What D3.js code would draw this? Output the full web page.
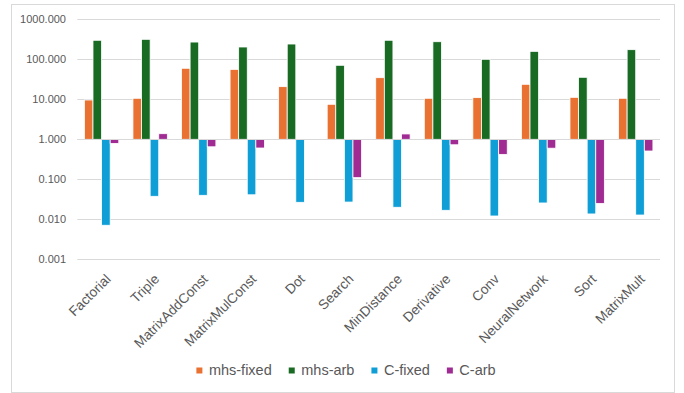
<!DOCTYPE html>
<html>
<head>
<meta charset="utf-8">
<script src="https://cdn.jsdelivr.net/npm/d3@7"></script>
<style>
  html, body { margin: 0; padding: 0; background: #fff; }
  svg { display: block; }
  text { font-family: "Liberation Sans", Arial, sans-serif; fill: #595959; }
</style>
</head>
<body>
<svg id="chart" width="684" height="393"></svg>
<script>
// Benchmarks on the horizontal axis
const categories = ["Factorial", "Triple", "MatrixAddConst", "MatrixMulConst", "Dot", "Search",
  "MinDistance", "Derivative", "Conv", "NeuralNetwork", "Sort", "MatrixMult"];

const seriesNames = ["mhs-fixed", "mhs-arb", "C-fixed", "C-arb"];
const seriesColors = ["#E97132", "#196B24", "#0F9ED5", "#A02B93"];

// Per-benchmark values for each series (null = no value)
const mhsFixed = [9.6, 10.6, 59.6, 56, 20.7, 7.5, 34.7, 10.6, 11.0, 23.7, 11.2, 10.6];
const mhsArb   = [299, 316, 270, 203, 241, 70.8, 299, 275, 100, 158, 35.5, 174];
const cFixed   = [0.0071, 0.0376, 0.0398, 0.041, 0.0266, 0.027, 0.020, 0.0168, 0.0121, 0.0256, 0.0136, 0.0128];
const cArb     = [0.79, 1.38, 0.65, 0.606, null, 0.11, 1.36, 0.73, 0.42, 0.60, 0.025, 0.51];

const yTicks = [0.001, 0.01, 0.1, 1, 10, 100, 1000];
const baseline = 1;

const seriesValues = [mhsFixed, mhsArb, cFixed, cArb];

const svg = d3.select("#chart");

// outer chart frame
svg.append("rect")
  .attr("x", 11.5).attr("y", 4.5)
  .attr("width", 663).attr("height", 388)
  .attr("fill", "none").attr("stroke", "#D9D9D9").attr("stroke-width", 1);

const plot = { left: 77.3, right: 660, top: 19.3, bottom: 259.3 };

const y = d3.scaleLog().domain([0.001, 1000]).range([plot.bottom, plot.top]);
const x0 = d3.scaleBand().domain(categories).range([plot.left, plot.right]).padding(0);
const x1 = d3.scaleBand().domain(seriesNames).range([0, x0.bandwidth()])
  .paddingInner(0).paddingOuter(0.825);

// gridlines
svg.append("g").selectAll("line").data(yTicks).join("line")
  .attr("x1", plot.left).attr("x2", plot.right)
  .attr("y1", d => Math.round(y(d)) + 0.5).attr("y2", d => Math.round(y(d)) + 0.5)
  .attr("stroke", "#D9D9D9").attr("stroke-width", 1);

// y axis labels
const yAxis = d3.axisLeft(y).tickValues(yTicks).tickFormat(d3.format(".3f")).tickSize(0).tickPadding(0);
svg.append("g")
  .attr("transform", `translate(66,0)`)
  .call(yAxis)
  .call(g => g.select(".domain").remove())
  .call(g => g.selectAll("text")
    .style("font-size", "11px")
    .attr("fill", "#595959")
    .attr("font-family", "Liberation Sans, Arial, sans-serif"));

// bars grow up or down from the baseline value
const rows = [];
categories.forEach((c, i) => {
  seriesNames.forEach((s, j) => {
    const v = seriesValues[j][i];
    if (v != null) rows.push({ c, s, v, color: seriesColors[j] });
  });
});

svg.append("g").selectAll("rect").data(rows).join("rect")
  .attr("x", d => x0(d.c) + x1(d.s))
  .attr("width", x1.bandwidth())
  .attr("y", d => Math.min(y(d.v), y(baseline)))
  .attr("height", d => Math.abs(y(d.v) - y(baseline)))
  .attr("fill", d => d.color)
  .attr("stroke", "#fff").attr("stroke-width", 0.8);

// category axis line at the baseline
svg.append("line")
  .attr("x1", plot.left).attr("x2", plot.right)
  .attr("y1", Math.round(y(baseline)) + 0.5).attr("y2", Math.round(y(baseline)) + 0.5)
  .attr("stroke", "#D9D9D9").attr("stroke-width", 1);

// rotated category labels
const xAxis = d3.axisBottom(x0).tickSize(0).tickPadding(0);
svg.append("g")
  .attr("transform", `translate(0,273)`)
  .call(xAxis)
  .call(g => g.select(".domain").remove())
  .call(g => g.selectAll("text")
    .style("font-size", "13.7px")
    .attr("fill", "#595959")
    .attr("font-family", "Liberation Sans, Arial, sans-serif")
    .attr("text-anchor", "end")
    .attr("y", 0).attr("dy", "0.72em")
    .attr("transform", "translate(3,0) rotate(-45)"));

// legend
const legend = svg.append("g").attr("class", "legend");
const items = legend.selectAll("g").data(seriesNames).join("g");
items.append("rect")
  .attr("width", 6).attr("height", 6)
  .attr("fill", (d, i) => seriesColors[i]);
items.append("text")
  .attr("x", 12.5).attr("dy", "0.33em")
  .style("font-size", "14.5px")
  .text(d => d);
let cursor = 0;
const positions = [];
items.each(function () {
  const w = d3.select(this).select("text").node().getComputedTextLength();
  positions.push(cursor);
  cursor += 12.5 + w + 17;
});
const total = cursor - 17;
const startX = 346 - total / 2;
items.attr("transform", (d, i) => `translate(${startX + positions[i]},374)`);
items.select("rect").attr("y", -6.5);
items.select("text").attr("y", -3.5);
</script>
</body>
</html>
